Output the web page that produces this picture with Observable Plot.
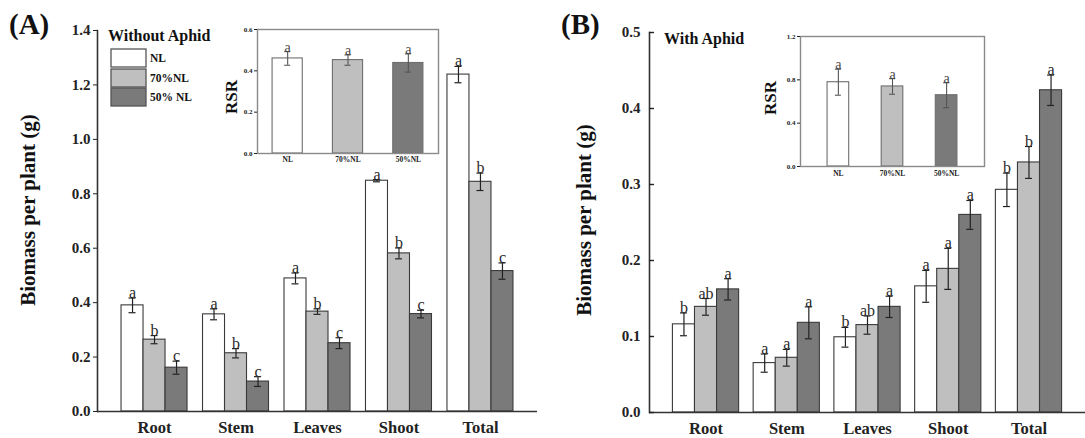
<!DOCTYPE html>
<html><head><meta charset="utf-8">
<script src="https://cdn.jsdelivr.net/npm/d3@7"></script>
<script src="https://cdn.jsdelivr.net/npm/@observablehq/plot@0.6"></script>
<style>
body{margin:0;background:#fff;}
#fig{position:relative;width:1085px;height:438px;overflow:hidden;font-family:"Liberation Serif","Times New Roman",serif;color:#222;}
</style></head><body><div id="fig"></div>
<script>
const FONT = '"Liberation Serif","Times New Roman",serif';
const categories = ["Root","Stem","Leaves","Shoot","Total"];
const treatments = ["NL","70%NL","50% NL"];
const rsrLabels = ["NL","70%NL","50%NL"];
const colors = ["#ffffff","#bfbfbf","#7a7a7a"];

// Panel A: without aphid (g per plant)
const aMeanNL = [0.390,0.357,0.489,0.848,1.238];
const aMean70 = [0.264,0.214,0.367,0.581,0.844];
const aMean50 = [0.161,0.110,0.251,0.358,0.516];
const aErrNL = [0.027,0.020,0.020,0.004,0.030];
const aErr70 = [0.015,0.017,0.010,0.020,0.032];
const aErr50 = [0.024,0.018,0.020,0.014,0.030];
const aSigNL = ["a","a","a","a","a"];
const aSig70 = ["b","b","b","b","b"];
const aSig50 = ["c","c","c","c","c"];
const aTicks = [0,0.2,0.4,0.6,0.8,1.0,1.2,1.4];

// Panel B: with aphid
const bMeanNL = [0.116,0.065,0.099,0.166,0.293];
const bMean70 = [0.139,0.072,0.115,0.189,0.329];
const bMean50 = [0.162,0.118,0.139,0.260,0.424];
const bErrNL = [0.015,0.012,0.013,0.021,0.022];
const bErr70 = [0.011,0.011,0.012,0.027,0.021];
const bErr50 = [0.014,0.021,0.014,0.019,0.020];
const bSigNL = ["b","a","b","a","b"];
const bSig70 = ["ab","a","ab","a","b"];
const bSig50 = ["a","a","a","a","a"];
const bTicks = [0,0.1,0.2,0.3,0.4,0.5];

// Insets: root/shoot ratio
const rsrA = [0.460,0.452,0.438];
const rsrAErr = [0.033,0.025,0.044];
const rsrSigA = ["a","a","a"];
const rsrATicks = [0,0.2,0.4,0.6];
const rsrB = [0.778,0.739,0.658];
const rsrBErr = [0.120,0.072,0.115];
const rsrSigB = ["a","a","a"];
const rsrBTicks = [0,0.4,0.8,1.2];

const fig = document.getElementById("fig");
function place(node, left, top){
  node.style.position = "absolute"; node.style.left = left + "px"; node.style.top = top + "px";
  fig.appendChild(node);
}

function mainPanel(o){
  const means = [o.mNL, o.m70, o.m50], errs = [o.eNL, o.e70, o.e50], sigs = [o.sNL, o.s70, o.s50];
  const rows = [];
  for (let s = 0; s < 3; s++) for (let i = 0; i < categories.length; i++)
    rows.push({cat: categories[i], s, v: means[s][i], e: errs[s][i], sig: sigs[s][i]});
  const innerW = o.width - o.mL - o.mR;
  const step = innerW / (categories.length - o.pI + 2 * o.pO);
  const bw = step * (1 - o.pI), sub = bw / 3, cap = 7, ci = (bw - cap) / 2;
  const marks = [];
  for (let s = 0; s < 3; s++) {
    const d = rows.filter(r => r.s === s), dx = (s - 1) * sub;
    marks.push(
      Plot.barY(d, {x: "cat", y: "v", fill: colors[s], stroke: "#3a3a3a", strokeWidth: 1.1, insetLeft: sub, insetRight: sub, dx}),
      Plot.ruleX(d, {x: "cat", y1: r => r.v - r.e, y2: r => r.v + r.e, stroke: "#222", strokeWidth: 1.2, dx}),
      Plot.tickY(d, {x: "cat", y: r => r.v - r.e, stroke: "#222", strokeWidth: 1.2, insetLeft: ci, insetRight: ci, dx}),
      Plot.tickY(d, {x: "cat", y: r => r.v + r.e, stroke: "#222", strokeWidth: 1.2, insetLeft: ci, insetRight: ci, dx}),
      Plot.text(d, {x: "cat", y: r => r.v + r.e, text: "sig", dx, dy: 0, lineAnchor: "bottom", fontSize: 16, fontFamily: FONT, fill: "#2a2a2a"})
    );
  }
  marks.push(
    Plot.ruleY([0], {stroke: "#333", strokeWidth: 1.6}),
    Plot.frame({anchor: "left", stroke: "#333", strokeWidth: 1.6}),
    Plot.axisX({tickSize: 0, tickPadding: 10, fontSize: 16.5, fontWeight: "bold", label: null}),
    Plot.axisY({ticks: o.yTicks, tickFormat: d3.format(".1f"), tickSize: o.inward ? 0 : 4, tickPadding: o.inward ? 9 : 3, fontSize: 15, fontWeight: "bold", label: null})
  );
  if (o.inward) marks.push(Plot.axisY({ticks: o.yTicks, tickFormat: () => "", tickSize: 5, dx: 5, strokeWidth: 1.4, label: null}));
  return Plot.plot({
    width: o.width, height: o.height,
    marginLeft: o.mL, marginRight: o.mR, marginTop: o.mT, marginBottom: o.mB,
    x: {type: "band", domain: categories, paddingInner: o.pI, paddingOuter: o.pO, round: false, label: null},
    y: {domain: [0, o.yMax], label: null},
    style: {fontFamily: FONT, color: "#222", background: "transparent", overflow: "visible"},
    marks
  });
}

function insetPanel(o){
  const rows = rsrLabels.map((t, i) => ({t, v: o.v[i], e: o.e[i], sig: o.sig[i]}));
  const innerW = o.width - o.mL - o.mR;
  const step = innerW / (rsrLabels.length - o.pI + 2 * o.pO);
  const bw = step * (1 - o.pI), cap = 6, ci = (bw - cap) / 2;
  return Plot.plot({
    width: o.width, height: o.height,
    marginLeft: o.mL, marginRight: o.mR, marginTop: o.mT, marginBottom: o.mB,
    x: {type: "band", domain: rsrLabels, paddingInner: o.pI, paddingOuter: o.pO, round: false, label: null},
    y: {domain: [0, o.yMax], label: null},
    color: {domain: rsrLabels, range: colors},
    style: {fontFamily: FONT, color: "#222", background: "transparent", overflow: "visible"},
    marks: [
      Plot.barY(rows, {x: "t", y: "v", fill: "t", stroke: "#6e6e6e", strokeWidth: 1.1}),
      Plot.ruleX(rows, {x: "t", y1: r => r.v - r.e, y2: r => r.v + r.e, stroke: "#555", strokeWidth: 1.1}),
      Plot.tickY(rows, {x: "t", y: r => r.v - r.e, stroke: "#555", strokeWidth: 1.1, insetLeft: ci, insetRight: ci}),
      Plot.tickY(rows, {x: "t", y: r => r.v + r.e, stroke: "#555", strokeWidth: 1.1, insetLeft: ci, insetRight: ci}),
      Plot.text(rows, {x: "t", y: r => r.v + r.e, text: "sig", dy: 0, lineAnchor: "bottom", fontSize: 14, fontFamily: FONT, fill: "#444"}),
      Plot.frame({stroke: "#8a8a8a", strokeWidth: 1.4}),
      Plot.axisY({ticks: o.yTicks, tickFormat: d3.format(".1f"), tickSize: 3, tickPadding: 2, fontSize: 7, fontWeight: "bold", label: null}),
      Plot.axisX({tickSize: 0, tickPadding: o.xPad, fontSize: 7.5, fontWeight: "bold", label: null})
    ]
  });
}

place(mainPanel({mNL: aMeanNL, m70: aMean70, m50: aMean50, eNL: aErrNL, e70: aErr70, e50: aErr50,
  sNL: aSigNL, s70: aSig70, s50: aSig50, yMax: 1.4, yTicks: aTicks,
  width: 545, height: 438, mL: 97, mR: 8, mT: 30, mB: 27, pI: 0.19, pO: 0.295, inward: false}), 0, 0);

place(mainPanel({mNL: bMeanNL, m70: bMean70, m50: bMean50, eNL: bErrNL, e70: bErr70, e50: bErr50,
  sNL: bSigNL, s70: bSig70, s50: bSig50, yMax: 0.5, yTicks: bTicks,
  width: 540, height: 438, mL: 104, mR: 0, mT: 32, mB: 26, pI: 0.18, pO: 0.29, inward: true}), 545, 0);

place(insetPanel({v: rsrA, e: rsrAErr, sig: rsrSigA, yMax: 0.6, yTicks: rsrATicks,
  width: 245, height: 150, mL: 57, mR: 7, mT: 9, mB: 17, pI: 0.5, pO: 0.25, xPad: 3}), 200, 20);

place(insetPanel({v: rsrB, e: rsrBErr, sig: rsrSigB, yMax: 1.2, yTicks: rsrBTicks,
  width: 250, height: 155, mL: 55, mR: 11, mT: 11, mB: 14, pI: 0.6, pO: 0.5, xPad: 4}), 745, 25);

// annotations
const svg = d3.select(fig).append("svg")
  .attr("width", 1085).attr("height", 438)
  .style("position", "absolute").style("left", "0px").style("top", "0px")
  .style("font-family", FONT).style("overflow", "visible");

const txt = (x, y, s, size, extra = {}) => {
  const t = svg.append("text").attr("x", x).attr("y", y).attr("font-size", size)
    .attr("font-weight", "bold").attr("fill", "#111").text(s);
  Object.entries(extra).forEach(([k, v]) => t.attr(k, v));
  return t;
};
txt(9, 34, "(A)", 29);
txt(561, 34, "(B)", 29);
txt(108, 41, "Without Aphid", 16);
txt(664, 44, "With Aphid", 16);

const legY = [49, 69, 88];
treatments.forEach((t, i) => {
  svg.append("rect").attr("x", 111).attr("y", legY[i]).attr("width", 35).attr("height", 18)
    .attr("fill", colors[i]).attr("stroke", "#555").attr("stroke-width", 1.3);
  txt(150, legY[i] + 13, t, 11.5);
});

txt(0, 0, "Biomass per plant (g)", 21, {"text-anchor": "middle", "dominant-baseline": "central", transform: "translate(28,210) rotate(-90)"});
txt(0, 0, "Biomass per plant (g)", 21, {"text-anchor": "middle", "dominant-baseline": "central", transform: "translate(584,220) rotate(-90)"});
txt(0, 0, "RSR", 17, {"text-anchor": "middle", "dominant-baseline": "central", transform: "translate(231,97) rotate(-90)"});
txt(0, 0, "RSR", 17, {"text-anchor": "middle", "dominant-baseline": "central", transform: "translate(770,98) rotate(-90)"});
</script>
</body></html>
